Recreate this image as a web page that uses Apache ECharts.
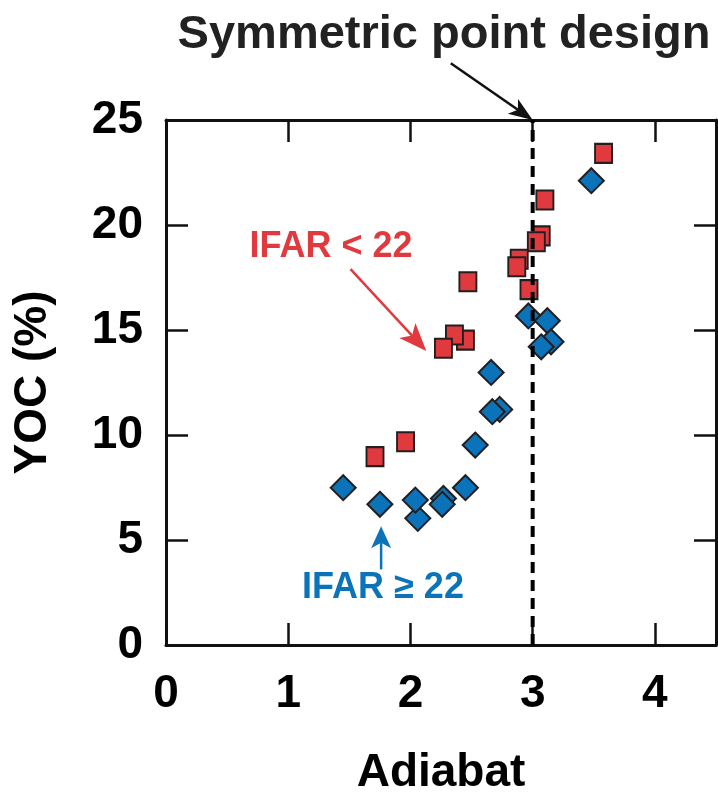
<!DOCTYPE html>
<html>
<head>
<meta charset="utf-8">
<script src="https://cdn.jsdelivr.net/npm/echarts@6/dist/echarts.min.js"></script>
<style>
html,body{margin:0;padding:0;background:#fff;}
#main{width:718px;height:792px;}
</style>
</head>
<body>
<div id="main"></div>
<script>
// ---- data ----
var xTicks = [0, 1, 2, 3, 4];
var yTicks = [0, 5, 10, 15, 20, 25];
// IFAR < 22 (red squares), drawing order: later on top
var redX = [3.58, 3.10, 3.07, 3.03, 2.89, 2.87, 2.47, 2.97, 2.45, 2.36, 2.27, 1.96, 1.71];
var redY = [23.41, 21.19, 19.48, 19.2, 18.37, 18.01, 17.3, 16.92, 14.52, 14.76, 14.13, 9.68, 8.97];
// IFAR >= 22 (blue diamonds)
var blueX = [3.48, 2.965, 3.12, 3.15, 3.07, 2.66, 2.73, 2.67, 2.53, 1.45, 2.45, 1.75, 2.06, 2.04, 2.27, 2.26];
var blueY = [22.11, 15.67, 15.44, 14.44, 14.2, 12.98, 11.22, 11.11, 9.52, 7.49, 7.49, 6.7, 6.03, 6.9, 6.98, 6.7];
var designX = 3;
var xLabel = 'Adiabat';
var yLabel = 'YOC (%)';
var redText = 'IFAR < 22';
var blueText = 'IFAR \u2265 22';
var designText = 'Symmetric point design';

var FONT = '"Liberation Sans", Arial, Helvetica, sans-serif';
var RED = '#E03A3E';
var BLUE = '#0B73B9';
var EDGE = '#231F20';

function zip(a, b) { return a.map(function (v, i) { return [v, b[i]]; }); }

var chart = echarts.init(document.getElementById('main'), null, {renderer: 'canvas'});

var axisCommon = {
  type: 'value',
  splitLine: {show: false},
  axisLine: {show: true, onZero: false, lineStyle: {color: '#111', width: 3}},
  axisTick: {show: true, inside: true, length: 22, lineStyle: {color: '#111', width: 2.5}},
  interval: 1
};

var option = {
  animation: false,
  backgroundColor: '#fff',
  grid: {left: 166, top: 120, width: 550, height: 525, containLabel: false, outerBoundsMode: 'none'},
  xAxis: [
    Object.assign({}, axisCommon, {
      min: 0, max: 4.5, interval: 1, position: 'bottom',
      axisLabel: {show: true, margin: 26, color: '#000', fontFamily: FONT, fontWeight: 'bold', fontSize: 46,
        formatter: function (v) { return xTicks.indexOf(v) >= 0 ? String(v) : ''; }},
      name: xLabel, nameLocation: 'middle', nameGap: 105, nameMoveOverlap: false,
      nameTextStyle: {color: '#000', fontFamily: FONT, fontWeight: 'bold', fontSize: 46}
    }),
    Object.assign({}, axisCommon, {
      min: 0, max: 4.5, interval: 1, position: 'top', axisLabel: {show: false}
    })
  ],
  yAxis: [
    Object.assign({}, axisCommon, {
      min: 0, max: 25, interval: 5, position: 'left',
      axisLabel: {show: true, margin: 23, color: '#000', fontFamily: FONT, fontWeight: 'bold', fontSize: 46,
        formatter: function (v) { return yTicks.indexOf(v) >= 0 ? String(v) : ''; }},
      name: yLabel, nameLocation: 'middle', nameGap: 110, nameRotate: 90, nameMoveOverlap: false,
      nameTextStyle: {color: '#000', fontFamily: FONT, fontWeight: 'bold', fontSize: 46}
    }),
    Object.assign({}, axisCommon, {
      min: 0, max: 25, interval: 5, position: 'right', axisLabel: {show: false}
    })
  ],
  series: [
    {
      type: 'scatter', name: 'blue', data: zip(blueX, blueY),
      symbol: 'diamond', symbolSize: [25, 25],
      itemStyle: {color: BLUE, borderColor: EDGE, borderWidth: 2, opacity: 1},
      z: 3
    },
    {
      type: 'scatter', name: 'red', data: zip(redX, redY),
      symbol: 'rect', symbolSize: [17, 19],
      itemStyle: {color: RED, borderColor: EDGE, borderWidth: 2, opacity: 1},
      z: 4
    },
    {
      type: 'line', name: 'design', data: [[designX, 0], [designX, 25]],
      symbol: 'none', lineStyle: {color: '#000', width: 4, type: [11, 7]},
      z: 6, silent: true
    }
  ]
};
chart.setOption(option);

function px(x, y) { return chart.convertToPixel({xAxisIndex: 0, yAxisIndex: 0}, [x, y]); }

function arrow(p0, p1, color, headLen, headW, lineW) {
  var dx = p1[0] - p0[0], dy = p1[1] - p0[1];
  var L = Math.sqrt(dx * dx + dy * dy);
  var ux = dx / L, uy = dy / L, nx = -uy, ny = ux;
  var bx = p1[0] - ux * headLen, by = p1[1] - uy * headLen;
  var nbx = p1[0] - ux * headLen * 0.75, nby = p1[1] - uy * headLen * 0.75;
  return [
    {type: 'line', shape: {x1: p0[0], y1: p0[1], x2: nbx, y2: nby},
      style: {stroke: color, lineWidth: lineW}, z: 10},
    {type: 'polygon', shape: {points: [p1, [bx + nx * headW / 2, by + ny * headW / 2], [nbx, nby], [bx - nx * headW / 2, by - ny * headW / 2]]},
      style: {fill: color}, z: 10}
  ];
}

var els = [];
// annotation anchors in data coordinates
var designTip = px(designX, 25);
var designStart = px(2.33, 27.7);
els = els.concat(arrow(designStart, designTip, '#111', 24, 18, 2.5));
els.push({type: 'text', x: 444, y: 35, style: {text: designText, fill: '#222', font: 'bold 47px ' + FONT, textAlign: 'center', textVerticalAlign: 'middle'}, z: 10});

var redTip = px(2.13, 14.0);
var redStart = px(1.51, 17.9);
els = els.concat(arrow(redStart, redTip, RED, 28, 22, 2.5));
els.push({type: 'text', x: 331, y: 247, style: {text: redText, fill: RED, font: 'bold 36px ' + FONT, textAlign: 'center', textVerticalAlign: 'middle'}, z: 10});

var blueTip = px(1.76, 5.65);
var blueStart = px(1.76, 3.6);
els = els.concat(arrow(blueStart, blueTip, BLUE, 22, 20, 2.5));
els.push({type: 'text', x: 383, y: 588, style: {text: blueText, fill: BLUE, font: 'bold 36px ' + FONT, textAlign: 'center', textVerticalAlign: 'middle'}, z: 10});

chart.setOption({graphic: {elements: els}});
</script>
</body>
</html>
